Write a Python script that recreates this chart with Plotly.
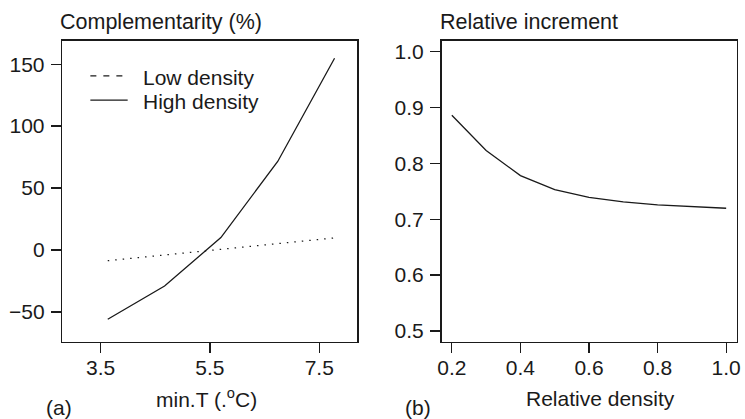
import plotly.graph_objects as go

# ---- data ----
min_t = [3.63, 4.67, 5.70, 6.74, 7.78]
low_density = [-8.6, -4.0, 0.6, 5.2, 9.8]
high_density = [-55.9, -29.1, 10.1, 71.5, 154.8]

rel_density = [0.2, 0.3, 0.4, 0.5, 0.6, 0.7, 0.8, 0.9, 1.0]
rel_increment = [0.886, 0.823, 0.778, 0.753, 0.739, 0.731, 0.7255, 0.722, 0.7196]

left_xticks = [3.5, 5.5, 7.5]
left_yticks = [-50, 0, 50, 100, 150]
right_xticks = [0.2, 0.4, 0.6, 0.8, 1.0]
right_yticks = [0.5, 0.6, 0.7, 0.8, 0.9, 1.0]

W, H = 745, 419
FONT = "Liberation Sans, Arial, Helvetica, sans-serif"
FS = 21
FS_TITLE = 21.5
INK = "#1a1a1a"


def px(x):
    return x / W


def py(y):
    return 1 - y / H


fig = go.Figure()
fig.add_trace(go.Scatter(x=min_t, y=low_density, mode="lines",
                         line=dict(color=INK, width=1.3, dash="1.5px,6px"),
                         xaxis="x", yaxis="y", showlegend=False, hoverinfo="skip"))
fig.add_trace(go.Scatter(x=min_t, y=high_density, mode="lines",
                         line=dict(color=INK, width=1.3),
                         xaxis="x", yaxis="y", showlegend=False, hoverinfo="skip"))
fig.add_trace(go.Scatter(x=rel_density, y=rel_increment, mode="lines",
                         line=dict(color=INK, width=1.3),
                         xaxis="x2", yaxis="y2", showlegend=False, hoverinfo="skip"))

axis_common = dict(showgrid=False, zeroline=False, showline=True, mirror=True,
                   linecolor=INK, linewidth=1.6, ticks="outside", ticklen=10,
                   tickwidth=1.3, tickcolor=INK,
                   tickfont=dict(family=FONT, size=FS, color=INK))

fig.update_layout(
    width=W, height=H,
    margin=dict(l=0, r=0, t=0, b=0),
    paper_bgcolor="white", plot_bgcolor="white",
    font=dict(family=FONT, size=FS, color=INK),
    xaxis=dict(domain=[px(59), px(357.3)], range=[2.80, 8.199],
               tickvals=left_xticks, ticktext=[f"{v:.1f}" for v in left_xticks],
               anchor="y", ticklabelstandoff=-4, **axis_common),
    yaxis=dict(domain=[py(341.7), py(40)], range=[-74.15, 168.8],
               tickvals=left_yticks, ticktext=[str(v).replace("-", "\u2212") for v in left_yticks],
               anchor="x", ticklabelstandoff=2, **axis_common),
    xaxis2=dict(domain=[px(442.3), px(740.5)], range=[0.170, 1.0303],
                tickvals=right_xticks, ticktext=[f"{v:.1f}" for v in right_xticks],
                anchor="y2", ticklabelstandoff=-4, **axis_common),
    yaxis2=dict(domain=[py(341.7), py(40)], range=[0.4804, 1.0191],
                tickvals=right_yticks, ticktext=[f"{v:.1f}" for v in right_yticks],
                anchor="x2", ticklabelstandoff=2, **axis_common),
)

# legend (left panel)
fig.add_shape(type="line", xref="paper", yref="paper",
              x0=px(87.3), x1=px(121), y0=py(75), y1=py(75),
              line=dict(color=INK, width=1.3, dash="6px,7px"))
fig.add_shape(type="line", xref="paper", yref="paper",
              x0=px(87.3), x1=px(125), y0=py(99.3), y1=py(99.3),
              line=dict(color=INK, width=1.3))

annots = [
    dict(text="Low density", x=px(140), y=py(77), xanchor="left", yanchor="middle", size=FS),
    dict(text="High density", x=px(140), y=py(100.5), xanchor="left", yanchor="middle", size=FS),
    dict(text="Complementarity (%)", x=px(56), y=py(21), xanchor="left", yanchor="middle", size=FS_TITLE),
    dict(text="Relative increment", x=px(440), y=py(21), xanchor="left", yanchor="middle", size=FS_TITLE),
    dict(text="min.T (.<sup>o</sup>C)", x=px(205), y=py(398), xanchor="center", yanchor="middle", size=FS),
    dict(text="Relative density", x=px(603), y=py(398), xanchor="center", yanchor="middle", size=FS),
    dict(text="(a)", x=px(41), y=py(407), xanchor="left", yanchor="middle", size=FS),
    dict(text="(b)", x=px(404), y=py(407), xanchor="left", yanchor="middle", size=FS),
]
for a in annots:
    size = a.pop("size")
    fig.add_annotation(xref="paper", yref="paper", showarrow=False,
                       font=dict(family=FONT, size=size, color=INK), borderpad=0, **a)

fig.write_html("out.html", config={"displayModeBar": False, "staticPlot": True},
               post_script="document.body.style.margin='0';document.body.style.overflow='hidden';")
